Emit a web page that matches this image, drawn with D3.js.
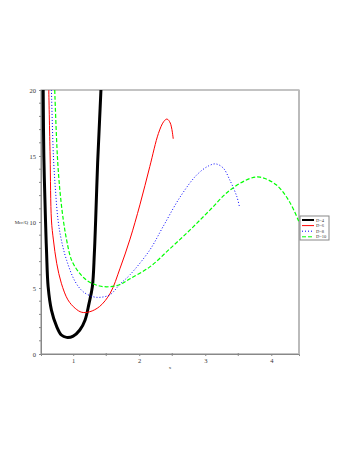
<!DOCTYPE html>
<html>
<head>
<meta charset="utf-8">
<script src="https://cdn.jsdelivr.net/npm/d3@7"></script>
<style>
  body { margin: 0; background: #fff; }
  svg { display: block; }
  text { font-family: "Liberation Serif", "DejaVu Serif", serif; }
</style>
</head>
<body>
<svg width="354" height="458"></svg>
<script>
// values
var xTicks = [1, 2, 3, 4],
    yTicks = [0, 5, 10, 15, 20];

var d4 = [[0.545, 20], [0.555, 15], [0.58, 10.15], [0.597, 7.6], [0.62, 5.1], [0.67, 3.33],
          [0.75, 2.07], [0.82, 1.44], [0.90, 1.26], [1.0, 1.36], [1.10, 1.82], [1.18, 2.58],
          [1.24, 3.84], [1.29, 5.1], [1.32, 7.6], [1.34, 10.15], [1.37, 14.5], [1.40, 17.8],
          [1.42, 20]];
var d6 = [[0.63, 20], [0.65, 15], [0.67, 10.15], [0.70, 8.64], [0.75, 6.87], [0.82, 5.36],
          [0.92, 4.1], [1.03, 3.46], [1.13, 3.16], [1.25, 3.2], [1.40, 3.6], [1.56, 4.6],
          [1.71, 6.5], [1.86, 8.7], [2.01, 11.3], [2.16, 14.2], [2.29, 16.7], [2.37, 17.6],
          [2.42, 17.8], [2.47, 17.5], [2.515, 16.3]];
var d8 = [[0.67, 20], [0.70, 15], [0.73, 12.5], [0.77, 10.15], [0.82, 8.64], [0.90, 7.1],
          [1.03, 5.48], [1.15, 4.72], [1.30, 4.34], [1.42, 4.3], [1.56, 4.5], [1.71, 5.3],
          [1.86, 6.0], [2.16, 7.88], [2.36, 9.64], [2.62, 11.9], [2.87, 13.56], [3.05, 14.25],
          [3.16, 14.4], [3.27, 14.1], [3.37, 13.2], [3.48, 11.9], [3.52, 11.1]];
var d10 = [[0.72, 20], [0.76, 15], [0.80, 12.3], [0.85, 10.15], [0.90, 8.64], [0.976, 7.1],
           [1.10, 6.1], [1.23, 5.5], [1.40, 5.15], [1.55, 5.1], [1.70, 5.25], [1.86, 5.7],
           [2.16, 6.6], [2.47, 8.0], [2.77, 9.4], [3.07, 10.9], [3.37, 12.4], [3.68, 13.3],
           [3.83, 13.4], [4.08, 12.8], [4.28, 11.5], [4.42, 10.0]];

var series = [
  { name: "D=4", values: d4, color: "#000", width: 3, dash: null },
  { name: "D=6", values: d6, color: "#ff0000", width: 1, dash: null },
  { name: "D=8", values: d8, color: "#0000ff", width: 1, dash: "1,2" },
  { name: "D=10", values: d10, color: "#00ff00", width: 1.2, dash: "4,2" }
];

var svg = d3.select("svg"),
    pLeft = 41, pRight = 299, pTop = 90, pBottom = 354;

var x = d3.scaleLinear().domain([0.512, 4.42]).range([pLeft, pRight]),
    y = d3.scaleLinear().domain([0, 20]).range([pBottom, pTop]);

svg.append("clipPath").attr("id", "clip")
  .append("rect").attr("x", pLeft).attr("y", pTop)
  .attr("width", pRight - pLeft).attr("height", pBottom - pTop);

// frame
svg.append("rect")
    .attr("x", pLeft).attr("y", pTop)
    .attr("width", pRight - pLeft).attr("height", pBottom - pTop)
    .attr("fill", "none").attr("stroke", "#888").attr("stroke-width", 1);
svg.append("line")
    .attr("x1", pRight).attr("x2", pRight).attr("y1", pTop).attr("y2", pBottom)
    .attr("stroke", "#bbb").attr("stroke-width", 2);

// axes
var xAxis = d3.axisBottom(x).tickValues(xTicks).tickSize(2).tickFormat(d3.format("d"));
var gx = svg.append("g").attr("transform", "translate(0," + pBottom + ")").call(xAxis);
svg.append("g").selectAll("line")
    .data(d3.range(1.5, 4.4, 1))
    .enter().append("line")
    .attr("x1", function (d) { return x(d); }).attr("x2", function (d) { return x(d); })
    .attr("y1", pBottom - 1).attr("y2", pBottom + 2)
    .attr("stroke", "#888");

var yAxis = d3.axisLeft(y).tickValues(yTicks).tickSize(2).tickFormat(d3.format("d"));
var gy = svg.append("g").attr("transform", "translate(" + pLeft + ",0)").call(yAxis);
svg.append("g").selectAll("line")
    .data(d3.range(1, 20, 1).filter(function (d) { return d % 5 !== 0; }))
    .enter().append("line")
    .attr("x1", pLeft - 2).attr("x2", pLeft)
    .attr("y1", function (d) { return y(d); }).attr("y2", function (d) { return y(d); })
    .attr("stroke", "#888");

[gx, gy].forEach(function (g) {
  g.select(".domain").attr("stroke", "#888");
  g.selectAll(".tick line").attr("stroke", "#888");
  g.selectAll(".tick text").attr("font-size", 6.5)
    .attr("font-family", "Liberation Serif").attr("fill", "#333");
});
gx.selectAll(".tick text").attr("y", 4);
gy.selectAll(".tick text").attr("x", -5);

svg.append("text").attr("x", 170).attr("y", 369)
    .attr("text-anchor", "middle").attr("font-size", 5).attr("fill", "#333").text("x");
svg.append("text").attr("x", 28).attr("y", 224)
    .attr("text-anchor", "end")
    .attr("font-size", 5).attr("fill", "#333").text("Mcr/Q");

// curves
var line = d3.line()
    .x(function (d) { return x(d[0]); })
    .y(function (d) { return y(d[1]); })
    .curve(d3.curveCatmullRom.alpha(0.5));

svg.append("g").attr("clip-path", "url(#clip)")
  .selectAll("path")
  .data(series)
  .enter().append("path")
    .attr("d", function (d) { return line(d.values); })
    .attr("fill", "none")
    .attr("stroke", function (d) { return d.color; })
    .attr("stroke-width", function (d) { return d.width; })
    .attr("stroke-dasharray", function (d) { return d.dash; });

// legend
var lg = svg.append("g").attr("transform", "translate(300,216)");
lg.append("rect").attr("width", 29).attr("height", 24)
    .attr("fill", "#fff").attr("stroke", "#888").attr("stroke-width", 1);
var item = lg.selectAll(".item")
    .data(series)
    .enter().append("g")
    .attr("transform", function (d, i) { return "translate(0," + (4 + i * 5.6) + ")"; });
item.append("line")
    .attr("x1", 2).attr("x2", 14)
    .attr("stroke", function (d) { return d.color; })
    .attr("stroke-width", function (d) { return d.width === 3 ? 2 : 1; })
    .attr("stroke-dasharray", function (d) { return d.dash; });
item.append("text")
    .attr("x", 16).attr("dy", "0.35em")
    .attr("font-size", 4.5).attr("fill", "#333")
    .text(function (d) { return d.name; });
</script>
</body>
</html>
